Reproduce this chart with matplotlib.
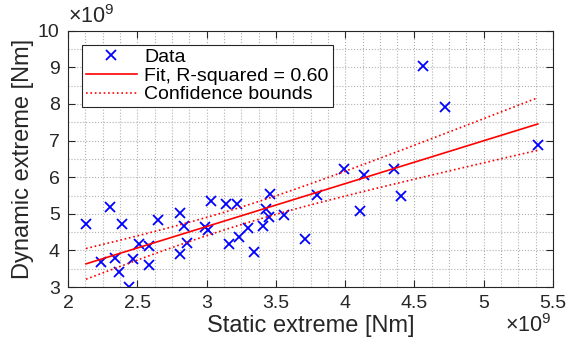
import numpy as np
import matplotlib
matplotlib.use("Agg")
import matplotlib.pyplot as plt
from matplotlib.ticker import MultipleLocator, FormatStrFormatter

plt.rcParams['font.family'] = ['Liberation Sans', 'DejaVu Sans']
plt.rcParams['mathtext.fontset'] = 'custom'
plt.rcParams['mathtext.rm'] = 'Liberation Sans'

# data in units of 1e9 Nm
static_ext = [2.13, 2.30, 2.39, 2.24, 2.34, 2.37, 2.44, 2.47, 2.51, 2.585,
              2.585, 2.65, 2.81, 2.84, 2.81, 2.86, 2.99, 3.01, 3.03, 3.14,
              3.22, 3.165, 3.235, 3.30, 3.345, 3.41, 3.43, 3.45, 3.455, 3.56,
              3.71, 3.80, 3.99, 4.11, 4.135, 4.35, 4.40, 4.56, 4.72, 5.39]
dynamic_ext = [4.72, 5.18, 4.72, 3.69, 3.80, 3.42, 3.01, 3.77, 4.17, 4.13,
               3.61, 4.83, 5.03, 4.67, 3.90, 4.19, 4.65, 4.56, 5.36, 5.26,
               5.28, 4.18, 4.36, 4.61, 3.96, 4.68, 5.12, 4.90, 5.53, 4.98,
               4.30, 5.51, 6.21, 5.07, 6.06, 6.21, 5.48, 9.03, 7.92, 6.88]

x = np.array(static_ext)
y = np.array(dynamic_ext)
n = len(x)

# linear fit + 95% confidence bounds for the fitted line
p = np.polyfit(x, y, 1)
yfit_pts = np.polyval(p, x)
s = np.sqrt(np.sum((y - yfit_pts)**2) / (n - 2))
xs = np.linspace(x.min(), x.max(), 100)
yf = np.polyval(p, xs)
sxx = np.sum((x - x.mean())**2)
t = 2.024
half = t * s * np.sqrt(1.0/n + (xs - x.mean())**2 / sxx)

fig = plt.figure(figsize=(5.69, 3.48), dpi=100)
ax = fig.add_axes([0.1195, 0.175, 0.8525, 0.737])

ax.plot(x, y, 'x', color='blue', markersize=7, markeredgewidth=1.3, label='Data')
ax.plot(xs, yf, '-', color='red', lw=1.2, label='Fit, R-squared = 0.60')
ax.plot(xs, yf + half, ':', color='red', lw=1.2, label='Confidence bounds')
ax.plot(xs, yf - half, ':', color='red', lw=1.2)

ax.set_xlim(2, 5.5)
ax.set_ylim(3, 10)
ax.xaxis.set_major_locator(MultipleLocator(0.5))
ax.yaxis.set_major_locator(MultipleLocator(1))
ax.xaxis.set_minor_locator(MultipleLocator(0.125))
ax.yaxis.set_minor_locator(MultipleLocator(0.5))
ax.xaxis.set_major_formatter(FormatStrFormatter('%g'))
ax.yaxis.set_major_formatter(FormatStrFormatter('%g'))
ax.tick_params(which='major', direction='in', top=True, right=True,
               length=5, width=0.8, labelsize=14, colors='#262626', pad=6)
ax.tick_params(which='minor', length=0)
ax.grid(which='both', linestyle=':', color='#b0b0b0', lw=0.8)
ax.set_axisbelow(True)
for sp in ax.spines.values():
    sp.set_color('#262626')
    sp.set_linewidth(0.8)

ax.set_xlabel('Static extreme [Nm]', fontsize=17, color='#262626', labelpad=2)
ax.set_ylabel('Dynamic extreme [Nm]', fontsize=17, color='#262626', labelpad=3)
ax.text(0.0, 1.01, r'$\times10^9$', transform=ax.transAxes, fontsize=15.5,
        color='#262626', ha='left', va='bottom')
ax.text(0.90, -0.105, r'$\times10^9$', transform=ax.transAxes, fontsize=15.5,
        color='#262626', ha='left', va='top')

leg = ax.legend(loc='upper left', fontsize=14, fancybox=False, framealpha=1,
                edgecolor='#262626', borderpad=0.2, labelspacing=0.05,
                handlelength=2.6, handletextpad=0.4, borderaxespad=0.0,
                bbox_to_anchor=(0.029, 0.945))
leg.get_frame().set_linewidth(0.8)

fig.savefig('out.png', dpi=100)
